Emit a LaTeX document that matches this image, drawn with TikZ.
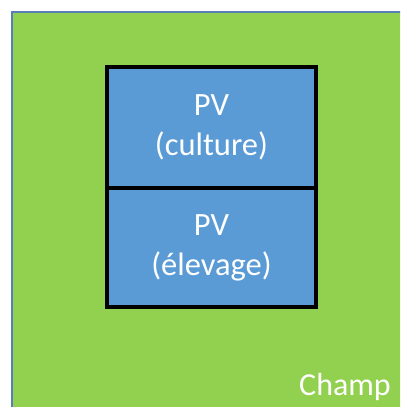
\documentclass[tikz,border=0pt]{standalone}
\usepackage{fontspec}
\setmainfont{Carlito}
\definecolor{fieldgreen}{HTML}{92D050}
\definecolor{fieldedge}{HTML}{5A7FB8}
\definecolor{pvblue}{HTML}{5B9BD5}
\tikzset{
  pvbox/.style={draw=black, line width=4.5pt, fill=pvblue, text=white,
    minimum width=209pt, align=center, inner sep=0pt,
    font=\fontsize{32.5pt}{40pt}\selectfont},
  fieldlabel/.style={text=white, inner sep=0pt, anchor=base east,
    font=\fontsize{32pt}{38pt}\selectfont}
}
\begin{document}
\begin{tikzpicture}[x=1pt,y=1pt]
\useasboundingbox (0,0) rectangle (400,407);
\begin{scope}
\clip (0,0) rectangle (400,407);
\fill[white] (0,0) rectangle (400,407);
\draw[fill=fieldgreen, draw=fieldedge, line width=1.5pt] (12,-5) rectangle (405,395);
\end{scope}
\node[pvbox, minimum height=121pt] (culture) at (211.5,279.5) {PV\\(culture)};
\node[pvbox, minimum height=119pt] (elevage) at (211.5,159.5) {PV\\(élevage)};
\node[fieldlabel] (champ) at (391,12) {Champ};
\end{tikzpicture}
\end{document}
